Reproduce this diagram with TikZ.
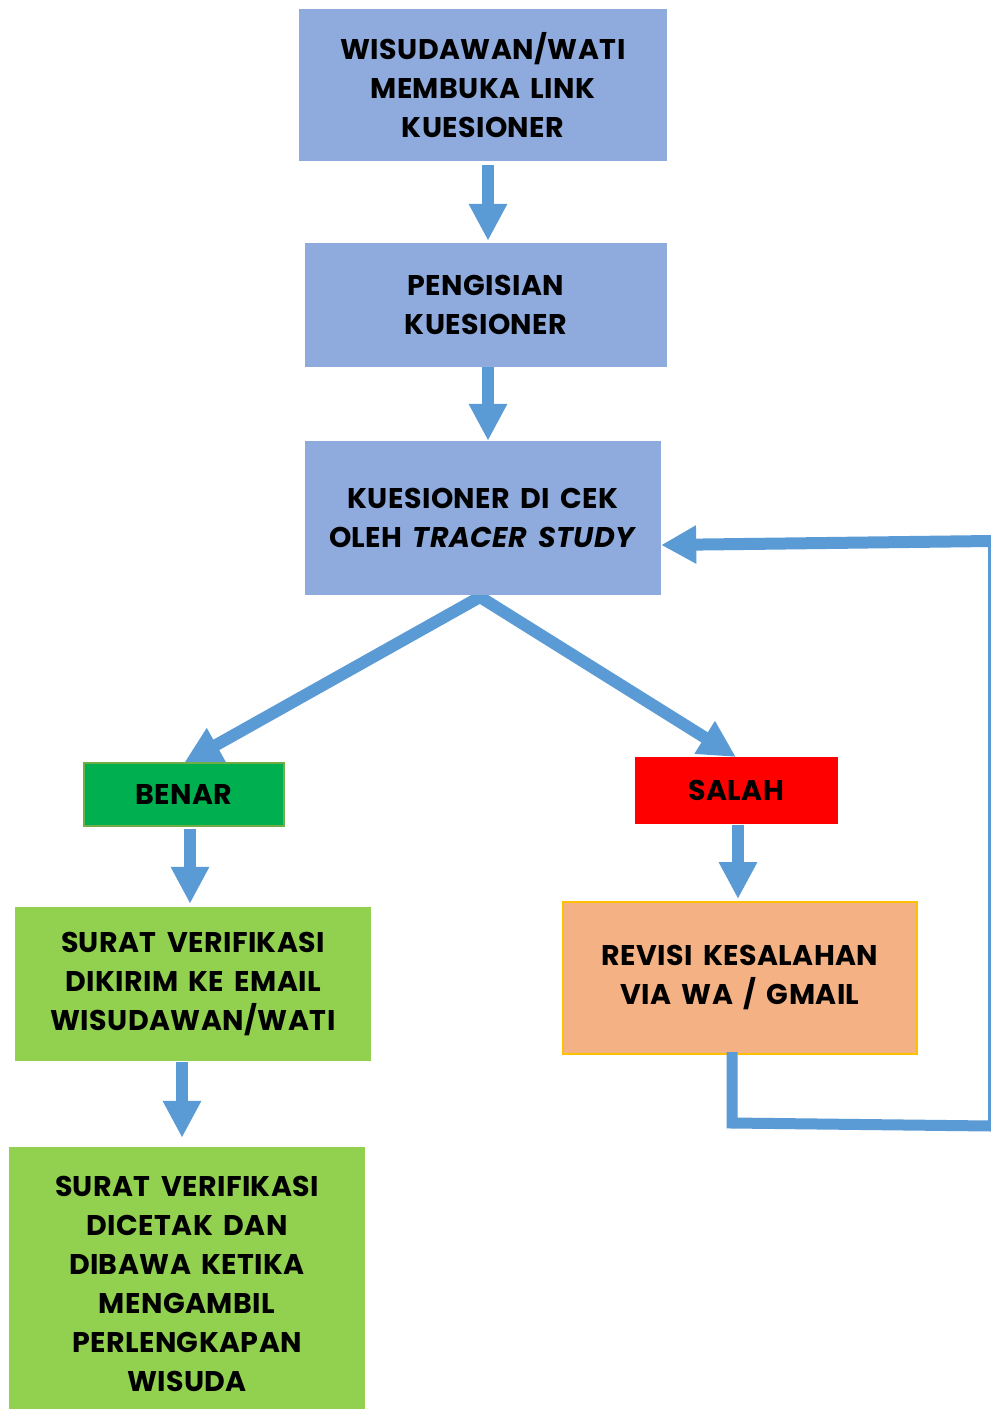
\documentclass[tikz,border=0pt]{standalone}
\usepackage{fontspec}
\setmainfont{Poppins}[BoldFont={Poppins Bold},BoldItalicFont={Poppins Bold Italic},LetterSpace=1.5,WordSpace=1.6]
\usetikzlibrary{arrows.meta,calc}
\definecolor{boxblue}{HTML}{8FAADC}
\definecolor{arrblue}{HTML}{5B9BD5}
\definecolor{okgreen}{HTML}{00B050}
\definecolor{okborder}{HTML}{70AD47}
\definecolor{lime}{HTML}{92D050}
\definecolor{errred}{HTML}{FF0000}
\definecolor{peach}{HTML}{F4B183}
\definecolor{gold}{HTML}{FFC000}
\tikzset{
  txtstyle/.style={font=\fontsize{28.5}{39}\selectfont\bfseries, align=center, text=black},
  boxnode/.style={rectangle, inner sep=0pt, txtstyle},
  bluebox/.style={boxnode, fill=boxblue},
  limebox/.style={boxnode, fill=lime},
  conn/.style={draw=arrblue, line width=12pt, -{Triangle[length=37pt,width=36pt]}},
}
\begin{document}
\begin{tikzpicture}[x=1pt,y=-1pt]
\useasboundingbox (0,0) rectangle (991,1409);
\fill[white] (0,0) rectangle (991,1409);

% connectors drawn first (behind boxes)
\coordinate (apex) at (480,597);
\draw[draw=arrblue, line width=12pt, miter limit=10, {Triangle[length=37pt,width=36pt]}-{Triangle[length=37pt,width=36pt]}] (184,763) -- (apex) -- (736,757);

\coordinate (loopA) at (732,1123);
\coordinate (loopB) at (991,1126);
\coordinate (loopC) at (989.5,1126);
\coordinate (loopD) at (989.5,538);
\coordinate (loopE) at (991,541);

% boxes
\node[bluebox, minimum width=368pt, minimum height=152pt] (b1) at (483,85)
  {WISUDAWAN/WATI\\MEMBUKA LINK\\KUESIONER};
\node[bluebox, minimum width=362pt, minimum height=124pt] (b2) at (486,305)
  {PENGISIAN\\KUESIONER};
\node[bluebox, minimum width=356pt, minimum height=154pt] (b3) at (483,518)
  {KUESIONER DI CEK\\OLEH \textit{TRACER STUDY}};
\node[boxnode, fill=okgreen, draw=okborder, line width=2pt, minimum width=200pt, minimum height=63pt] (benar) at (184,794)
  {BENAR};
\node[boxnode, fill=errred, draw=errred, line width=1pt, minimum width=202pt, minimum height=66pt] (salah) at (736,790)
  {SALAH};
\node[limebox, minimum width=356pt, minimum height=154pt] (b4) at (193,984)
  {SURAT VERIFIKASI\\DIKIRIM KE EMAIL\\WISUDAWAN/WATI};
\node[limebox, minimum width=356pt, minimum height=262pt,
  label={[txtstyle, yshift=-6pt]center:{SURAT VERIFIKASI\\DICETAK DAN\\DIBAWA KETIKA\\MENGAMBIL\\PERLENGKAPAN\\WISUDA}}] (b5) at (187,1278) {};
\node[boxnode, fill=peach, draw=gold, line width=2pt, minimum width=354pt, minimum height=152pt] (rev) at (740,978)
  {REVISI KESALAHAN\\VIA WA / GMAIL};

% straight connectors
\draw[conn] ($(b1.south)+(5,4)$) -- ($(b2.north)+(2,-2)$);
\draw[conn] ($(b2.south)+(2,0)$) -- ($(b3.north)+(5,0)$);
\draw[conn] ($(benar.south)+(6,2)$) -- ($(b4.north)+(-3,-3)$);
\draw[conn] ($(b4.south)+(-11,1)$) -- ($(b5.north)+(-5,-9)$);
\draw[conn] ($(salah.south)+(2,1)$) -- ($(rev.north)+(-2,-2)$);

% loop back
\draw[draw=arrblue, line width=11pt] ($(rev.south)+(-8,-3)$) -- (loopA) -- (loopB);
\draw[draw=arrblue, line width=3pt] (loopC) -- (loopD);
\draw[draw=arrblue, line width=12pt, -{Triangle[length=35pt,width=36pt]}] (loopE) -- ($(b3.east)+(0,27)$);
\end{tikzpicture}
\end{document}
